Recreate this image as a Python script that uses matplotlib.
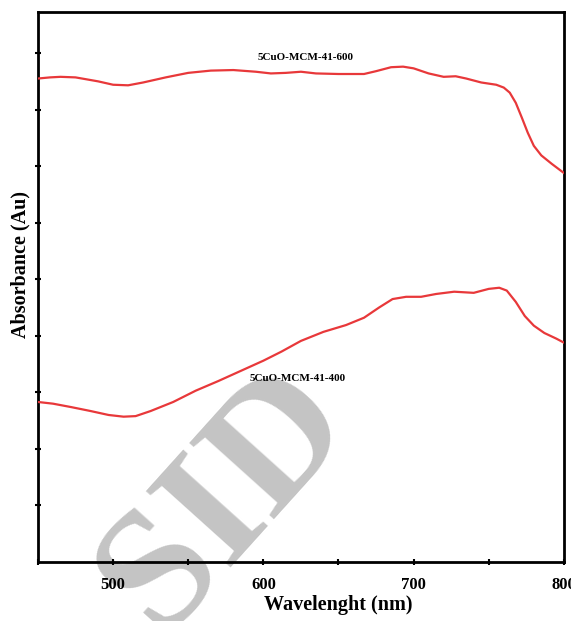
# UV-Vis absorbance spectra of two CuO/MCM-41 samples
import matplotlib.pyplot as plt

# spectrum of the sample calcined at 600
wl_600 = [450, 458, 465, 475, 490, 500, 510, 520, 535, 550, 565, 580, 595, 605,
          615, 625, 635, 650, 667, 675, 685, 693, 700, 710, 720, 728, 735, 745,
          755, 760, 764, 768, 772, 776, 780, 785, 792, 800]
abs_600 = [8.55, 8.57, 8.58, 8.57, 8.50, 8.44, 8.43, 8.48, 8.57, 8.65, 8.69,
           8.70, 8.67, 8.64, 8.65, 8.67, 8.64, 8.63, 8.63, 8.68, 8.75, 8.76,
           8.73, 8.64, 8.58, 8.59, 8.55, 8.48, 8.44, 8.39, 8.30, 8.12, 7.86,
           7.59, 7.36, 7.19, 7.04, 6.88]

# spectrum of the sample calcined at 400
wl_400 = [450, 460, 472, 485, 497, 507, 515, 525, 540, 555, 570, 585, 600, 612,
          625, 640, 655, 667, 677, 686, 695, 705, 715, 727, 740, 750, 757, 762,
          768, 774, 780, 787, 795, 800]
abs_400 = [2.83, 2.80, 2.74, 2.67, 2.60, 2.57, 2.58, 2.67, 2.83, 3.03, 3.20,
           3.38, 3.56, 3.72, 3.91, 4.07, 4.19, 4.32, 4.50, 4.65, 4.69, 4.69,
           4.74, 4.78, 4.76, 4.83, 4.85, 4.80, 4.60, 4.35, 4.18, 4.05, 3.95,
           3.88]

x_major = [500, 600, 700, 800]
x_minor = [450, 550, 650, 750]
y_ticks = [1, 2, 3, 4, 5, 6, 7, 8, 9]

serif = ['Liberation Serif', 'DejaVu Serif']

fig = plt.figure(figsize=(5.71, 6.21), dpi=100)
ax = fig.add_axes([0.0665, 0.095, 0.921, 0.886])

red = '#e8383a'
ax.plot(wl_600, abs_600, color=red, lw=1.6, zorder=3)
ax.plot(wl_400, abs_400, color=red, lw=1.6, zorder=3)

ax.text(628, 8.92, '5CuO-MCM-41-600', family=serif, fontsize=8,
        fontweight='bold', ha='center', va='center', zorder=4)
ax.text(623, 3.24, '5CuO-MCM-41-400', family=serif, fontsize=8,
        fontweight='bold', ha='center', va='center', zorder=4)

# watermark
ax.text(575, 1.1, 'SID', family=serif, fontsize=125, fontweight='bold',
        color='#c4c4c4', rotation=48, ha='center', va='center', zorder=1,
        clip_on=False)

ax.set_xlim(450, 800)
ax.set_ylim(0, 9.73)
ax.set_xticks(x_major)
ax.set_xticks(x_minor, minor=True)
ax.set_yticks(y_ticks)
ax.set_yticklabels([])
ax.tick_params(axis='both', which='both', direction='inout', length=4,
               width=1.5, color='black')
ax.tick_params(axis='x', pad=9)
for lab in ax.get_xticklabels():
    lab.set_family(serif)
    lab.set_fontweight('bold')
    lab.set_fontsize(12)

for sp in ax.spines.values():
    sp.set_linewidth(2)

fig.text(338 / 571, 1 - 605 / 621, 'Wavelenght (nm)', family=serif,
         fontweight='bold', fontsize=14.5, ha='center', va='center')
fig.text(20 / 571, 1 - 265 / 621, 'Absorbance (Au)', family=serif,
         fontweight='bold', fontsize=14.5, rotation=90, ha='center',
         va='center')

fig.savefig('out.png', dpi=100)
